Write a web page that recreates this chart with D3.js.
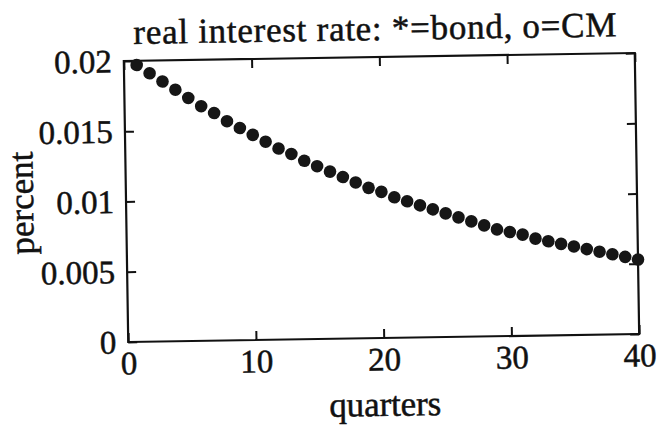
<!DOCTYPE html>

<head>
    <meta charset="utf-8">
    <title>real interest rate</title>
    <script type="text/javascript" src="https://d3js.org/d3.v7.min.js"></script>
    <style>
        body { margin: 0; background: #fff; }
        text { font-family: "Liberation Serif", "Times New Roman", serif; fill: #111; stroke: #111; stroke-width: 0.5px; }
    </style>
</head>

<body>
    <div id="container"></div>
    <script>

        //-----------------------------DATA-----------------------------//
        var quarters = d3.range(1, 41)
        var rate = [0.0197, 0.0191, 0.0185, 0.0179, 0.0173, 0.0167, 0.0162, 0.0156, 0.0151, 0.0146,
                    0.0141, 0.0136, 0.0132, 0.0127, 0.0123, 0.0119, 0.0115, 0.0111, 0.0107, 0.0104,
                    0.0100, 0.0097, 0.0094, 0.0091, 0.0088, 0.0085, 0.0082, 0.0079, 0.0076, 0.0074,
                    0.0072, 0.0069, 0.0067, 0.0065, 0.0063, 0.0061, 0.0059, 0.0057, 0.0055, 0.0053]
        var xTicks = [0, 10, 20, 30, 40]
        var yTicks = [0, 0.005, 0.01, 0.015, 0.02]
        var yTickLabels = ["0", "0.005", "0.01", "0.015", "0.02"]

        //------------------------PREPARATION---------------------------//
        var W = 659, H = 432
        var margin = { top: 57, right: 22, bottom: 94, left: 126 }
        var width = W - margin.left - margin.right,
            height = H - margin.top - margin.bottom

        var xScale = d3.scaleLinear().domain([0, 40]).range([0, width])
        var yScale = d3.scaleLinear().domain([0, 0.02]).range([height, 0])

        var svg = d3.select("div#container").append("svg")
            .attr("width", W)
            .attr("height", H)

        // the scanned page is tilted a little
        var page = svg.append("g")
            .attr("transform", "rotate(-0.9, 381.5, 197.5)")

        var g = page.append("g")
            .attr("transform", "translate(" + margin.left + "," + margin.top + ")")

        //-----------------------------AXES-----------------------------//
        var tick = 9

        g.append("g")
            .attr("class", "x axis")
            .attr("transform", "translate(0," + height + ")")
            .call(d3.axisBottom(xScale).tickValues(xTicks).tickSizeInner(-tick).tickSizeOuter(0).tickPadding(9))

        g.append("g")
            .attr("class", "y axis")
            .call(d3.axisLeft(yScale).tickValues(yTicks).tickSizeInner(-tick).tickSizeOuter(0).tickPadding(12)
                .tickFormat(function (d, i) { return yTickLabels[i] }))

        g.append("g")
            .call(d3.axisTop(xScale).tickValues(xTicks).tickSizeInner(-tick).tickSizeOuter(0).tickFormat(""))

        g.append("g")
            .attr("transform", "translate(" + width + ",0)")
            .call(d3.axisRight(yScale).tickValues(yTicks).tickSizeInner(-tick).tickSizeOuter(0).tickFormat(""))

        g.selectAll(".domain").remove()
        g.selectAll(".tick line").attr("stroke", "#111").attr("stroke-width", 2)
        g.selectAll(".tick text")
            .attr("fill", "#111")
            .style("font-size", "33px")
            .style("font-family", "'Liberation Serif', 'Times New Roman', serif")
        g.selectAll(".y.axis .tick text").attr("dy", "0.33em")

        g.append("rect")
            .attr("width", width)
            .attr("height", height)
            .attr("fill", "none")
            .attr("stroke", "#111")
            .attr("stroke-width", 2.2)

        //----------------------------Plots-----------------------------//
        g.selectAll(".dot")
            .data(quarters)
            .enter().append("circle")
            .attr("class", "dot")
            .attr("r", 6.3)
            .attr("cx", function (d) { return xScale(d) })
            .attr("cy", function (d, i) { return yScale(rate[i]) })
            .style("fill", "#161616")

        //----------------------------LABELS----------------------------//
        page.append("text")
            .attr("x", 377.5)
            .attr("y", 40)
            .attr("text-anchor", "middle")
            .attr("textLength", 483)
            .attr("lengthAdjust", "spacing")
            .style("font-size", "35px")
            .text("real interest rate: *=bond, o=CM")

        page.append("text")
            .attr("x", 382)
            .attr("y", 416)
            .attr("text-anchor", "middle")
            .attr("textLength", 112)
            .attr("lengthAdjust", "spacing")
            .style("font-size", "35px")
            .text("quarters")

        page.append("text")
            .attr("transform", "translate(33,197.5) rotate(-90)")
            .attr("text-anchor", "middle")
            .attr("textLength", 103)
            .attr("lengthAdjust", "spacing")
            .style("font-size", "35px")
            .text("percent")

    </script>
</body>
